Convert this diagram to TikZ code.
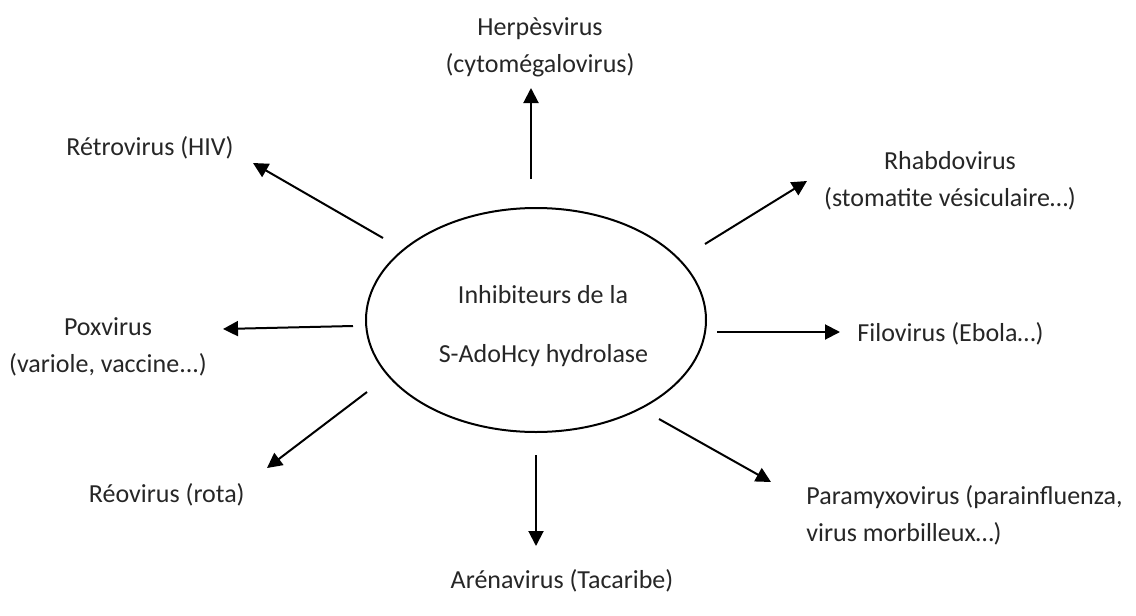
\documentclass[tikz,border=0pt]{standalone}
\usepackage{fontspec}
\setmainfont{Carlito}
\usetikzlibrary{arrows.meta,shapes.geometric}
\begin{document}
\begin{tikzpicture}[x=0.5pt,y=-0.5pt,
  lbl/.style={inner sep=0pt,font=\fontsize{13}{18.5}\selectfont,text=black!85},
  conn/.style={line width=1pt,-{Triangle[length=7.5pt,width=7.5pt]}},
  hub/.style={draw,line width=1pt,ellipse,minimum width=170pt,minimum height=112pt,inner sep=0pt}]
\useasboundingbox (0,0) rectangle (1136,616);
\node[hub] (c) at (536,320) {};
\node[lbl,anchor=base] (t1) at (543,303) {Inhibiteurs de la};
\node[lbl,anchor=base] (t2) at (543.5,362) {S-AdoHcy hydrolase};
% labels (base = baseline of last line)
\node[lbl,anchor=base,align=center] (herpes) at (540,72) {Herpèsvirus\\(cytomégalovirus)};
\node[lbl,anchor=base east] (retro) at (234,155) {Rétrovirus (HIV)};
\node[lbl,anchor=base,align=center] (rhabdo) at (950,206) {Rhabdovirus\\(stomatite vésiculaire…)};
\node[lbl,anchor=base,align=center] (pox) at (108,372) {Poxvirus\\(variole, vaccine...)};
\node[lbl,anchor=base west] (filo) at (857,341) {Filovirus (Ebola…)};
\node[lbl,anchor=base east] (reo) at (245,502) {Réovirus (rota)};
\node[lbl,anchor=base west,align=left] (para) at (806,541) {Paramyxovirus (parainfluenza,\\virus morbilleux…)};
\node[lbl,anchor=base] (arena) at (562,588) {Arénavirus (Tacaribe)};
% connector ends
\coordinate (h0) at (531,179); \coordinate (h1) at (531,88);
\coordinate (r0) at (383,238); \coordinate (r1) at (253,163);
\coordinate (b0) at (705,244); \coordinate (b1) at (807,181);
\coordinate (p0) at (353,326); \coordinate (p1) at (223,329);
\coordinate (f0) at (717,332); \coordinate (f1) at (840,332);
\coordinate (o0) at (367,392); \coordinate (o1) at (267,468);
\coordinate (a0) at (536,455); \coordinate (a1) at (536,546);
\coordinate (m0) at (659,419); \coordinate (m1) at (771,482);
\draw[conn] (h0) -- (h1);
\draw[conn] (r0) -- (r1);
\draw[conn] (b0) -- (b1);
\draw[conn] (p0) -- (p1);
\draw[conn] (f0) -- (f1);
\draw[conn] (o0) -- (o1);
\draw[conn] (a0) -- (a1);
\draw[conn] (m0) -- (m1);
\end{tikzpicture}
\end{document}
